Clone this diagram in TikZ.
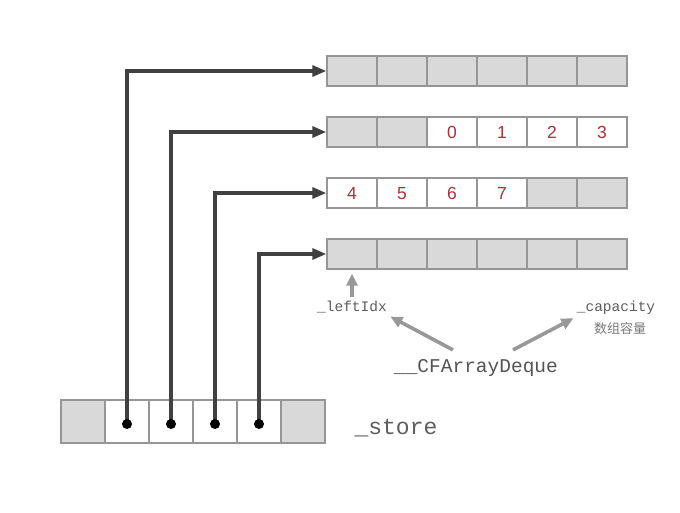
\documentclass[tikz,border=0pt]{standalone}
\usepackage{fontspec}
\setmainfont{Liberation Sans}
\setmonofont{Liberation Mono}
\newfontfamily\cjkfont{Noto Sans CJK SC}
\usetikzlibrary{arrows.meta,positioning}
\definecolor{cellgray}{RGB}{217,217,217}
\definecolor{edgegray}{RGB}{150,150,150}
\definecolor{ptr}{RGB}{64,64,64}
\definecolor{numred}{RGB}{170,50,55}
\definecolor{notegray}{RGB}{152,152,152}

\begin{document}
\begin{tikzpicture}[x=1pt,y=-1pt,
  cell/.style={draw=edgegray,line width=1.4pt,fill=cellgray,minimum width=50pt,
               minimum height=30pt,inner sep=0pt,text=numred,
               text height=12.6pt,text depth=0pt,
               font=\fontsize{17.5}{17.5}\selectfont},
  used/.style={cell,fill=white},
  slot/.style={cell,minimum width=44pt,minimum height=43pt},
  ptrarr/.style={-{Triangle[length=14pt,width=11pt]},draw=ptr,line width=3.2pt},
  notearr/.style={-{Triangle[length=12pt,width=11pt]},draw=notegray,line width=3.6pt},
  lbl/.style={font=\ttfamily\fontsize{14.5}{14.5}\selectfont,text=ptr!85}
]
\useasboundingbox (0,0) rectangle (680,512);

% buffers
\foreach \i in {1,...,6}
  \node[cell] (a\i) at ({302+50*\i},71) {};
\node[cell] (b1) at (352,132) {};
\node[cell] (b2) at (402,132) {};
\foreach \i/\v in {3/0,4/1,5/2,6/3}
  \node[used] (b\i) at ({302+50*\i},132) {\v};
\foreach \i/\v in {1/4,2/5,3/6,4/7}
  \node[used] (c\i) at ({302+50*\i},193) {\v};
\node[cell] (c5) at (552,193) {};
\node[cell] (c6) at (602,193) {};
\foreach \i in {1,...,6}
  \node[cell] (d\i) at ({302+50*\i},254) {};

% store
\node[slot] (s1) at (83,421.5) {};
\foreach \i in {2,...,5}
  \node[slot,fill=white] (s\i) at ({39+44*\i},421.5) {};
\node[slot] (s6) at (303,421.5) {};

% pointers
\draw[ptrarr] (s2.center) |- (a1.west);
\draw[ptrarr] (s3.center) |- (b1.west);
\draw[ptrarr] (s4.center) |- (c1.west);
\draw[ptrarr] (s5.center) |- (d1.west);
\foreach \i in {2,...,5}
  \fill[black] ([yshift=-2.5pt]s\i.center) circle (5pt);

% labels
\node[font=\ttfamily\fontsize{23}{23}\selectfont,text=ptr!85] (store) at (396,428) {\_store};
\node[font=\ttfamily\fontsize{19.5}{19.5}\selectfont,text=ptr!90] (deque) at (476,368) {\_\_CFArrayDeque};
\node[lbl] (left) at (352,307) {\_leftIdx};
\node[lbl] (cap) at (616,308) {\_capacity};
\node[font=\cjkfont\fontsize{13}{13}\selectfont,text=ptr!70] (capzh) at (620,329) {数组容量};

\draw[notearr] (left.north) -- ([yshift=-4pt]d1.south);
\draw[notearr] ([xshift=-23pt,yshift=6pt]deque.north) -- (left.south east);
\draw[notearr] ([xshift=37pt,yshift=6pt]deque.north) -- (cap.south west);
\end{tikzpicture}
\end{document}
